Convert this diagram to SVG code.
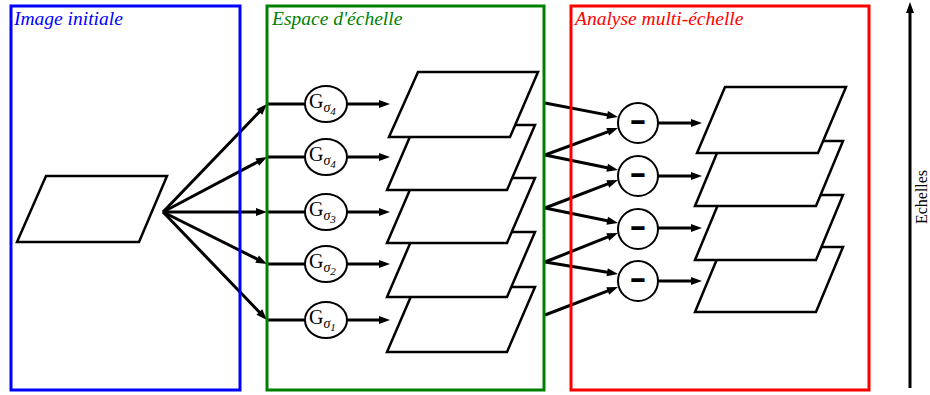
<svg xmlns="http://www.w3.org/2000/svg" width="930" height="395" viewBox="0 0 930 395">
<style>
.frame{fill:none;stroke-width:3}
.title{font-family:"Liberation Serif",serif;font-style:italic;font-size:19.5px}
.plane{fill:#fff;stroke:#000;stroke-width:2.5;stroke-linejoin:miter}
.node{fill:#fff;stroke:#000;stroke-width:2}
.con{fill:none;stroke:#000;stroke-width:3}
.arr{marker-end:url(#ah)}
.g{font-family:"Liberation Serif",serif;font-size:20px;fill:#000}
.sig{font-style:italic;font-size:14px}
.num{font-style:italic;font-size:11px}
.minus{font-family:"Liberation Serif",serif;font-weight:bold;font-size:24px;fill:#000;stroke:#000;stroke-width:2;text-anchor:middle}
.axis{font-family:"Liberation Serif",serif;font-size:16px;fill:#000;text-anchor:middle}
</style>
<defs>
<marker id="ah" markerUnits="userSpaceOnUse" markerWidth="12" markerHeight="9" refX="5" refY="4" orient="auto" overflow="visible">
<path d="M0,0 L11,4 L0,8 z" fill="#000"/>
</marker>
</defs>

<g id="connectors">
<line class="con arr" x1="163" y1="212" x2="262.8" y2="108.3"/>
<line class="con arr" x1="163" y1="212" x2="261.7" y2="159.8"/>
<line class="con arr" x1="163" y1="212" x2="261" y2="212"/>
<line class="con arr" x1="163" y1="212" x2="261.6" y2="261.3"/>
<line class="con arr" x1="163" y1="212" x2="262.8" y2="315.7"/>
<line class="con" x1="267" y1="104" x2="306" y2="104"/>
<line class="con" x1="267" y1="157" x2="306" y2="157"/>
<line class="con" x1="267" y1="212" x2="306" y2="212"/>
<line class="con" x1="267" y1="264" x2="306" y2="264"/>
<line class="con" x1="267" y1="320" x2="306" y2="320"/>
<line class="con arr" x1="346" y1="104" x2="384" y2="104"/>
<line class="con arr" x1="346" y1="157" x2="384" y2="157"/>
<line class="con arr" x1="346" y1="212" x2="384" y2="212"/>
<line class="con arr" x1="346" y1="264" x2="384" y2="264"/>
<line class="con arr" x1="346" y1="320" x2="384" y2="320"/>
<line class="con arr" x1="545" y1="103" x2="612.1" y2="115.9"/>
<line class="con arr" x1="545" y1="155" x2="612.4" y2="130.1"/>
<line class="con arr" x1="545" y1="155" x2="612.1" y2="168.8"/>
<line class="con arr" x1="545" y1="208" x2="612.4" y2="182.1"/>
<line class="con arr" x1="545" y1="208" x2="612.1" y2="221.8"/>
<line class="con arr" x1="545" y1="262" x2="612.4" y2="235.2"/>
<line class="con arr" x1="545" y1="262" x2="612.1" y2="273"/>
<line class="con arr" x1="545" y1="315" x2="612.4" y2="289.1"/>
<line class="con arr" x1="658" y1="123" x2="696" y2="123"/>
<line class="con arr" x1="658" y1="176" x2="696" y2="176"/>
<line class="con arr" x1="658" y1="228" x2="696" y2="228"/>
<line class="con arr" x1="658" y1="281" x2="696" y2="281"/>
<line class="con arr" x1="910" y1="388" x2="910" y2="8"/>
</g>

<g id="frame-image">
<rect class="frame" stroke="#0000ff" x="11" y="6" width="229" height="384"/>
<text class="title" fill="#0000ff" x="14" y="25">Image initiale</text>
</g>
<g id="frame-espace">
<rect class="frame" stroke="#008000" x="267" y="6" width="277" height="384"/>
<text class="title" fill="#008000" x="272" y="25">Espace d'échelle</text>
</g>
<g id="frame-analyse">
<rect class="frame" stroke="#ff0000" x="571" y="6" width="298" height="384"/>
<text class="title" fill="#ff0000" x="575" y="25">Analyse multi-échelle</text>
</g>

<g id="image-initiale">
<polygon class="plane" points="46,176 167,176 139,242 17,242"/>
</g>

<g id="g1"><ellipse class="node" cx="326" cy="320" rx="21" ry="18"/><text class="g" x="309" y="324">G<tspan class="sig" dy="4">σ</tspan><tspan class="num" dy="3">1</tspan></text></g>
<g id="g2"><ellipse class="node" cx="326" cy="264" rx="21" ry="18"/><text class="g" x="309" y="268">G<tspan class="sig" dy="4">σ</tspan><tspan class="num" dy="3">2</tspan></text></g>
<g id="g3"><ellipse class="node" cx="326" cy="212" rx="21" ry="18"/><text class="g" x="309" y="216">G<tspan class="sig" dy="4">σ</tspan><tspan class="num" dy="3">3</tspan></text></g>
<g id="g4b"><ellipse class="node" cx="326" cy="157" rx="21" ry="18"/><text class="g" x="309" y="161">G<tspan class="sig" dy="4">σ</tspan><tspan class="num" dy="3">4</tspan></text></g>
<g id="g4a"><ellipse class="node" cx="326" cy="104" rx="21" ry="18"/><text class="g" x="309" y="108">G<tspan class="sig" dy="4">σ</tspan><tspan class="num" dy="3">4</tspan></text></g>

<g id="espace-5"><polygon class="plane" points="415,287 535,287 507,352 387,352"/></g>
<g id="espace-4"><polygon class="plane" points="415,232 535,232 507,297 387,297"/></g>
<g id="espace-3"><polygon class="plane" points="415,178 535,178 507,243 387,243"/></g>
<g id="espace-2"><polygon class="plane" points="415,125 535,125 507,190 387,190"/></g>
<g id="espace-1"><polygon class="plane" points="418,72 538,72 510,137 389,137"/></g>

<g id="diff-1"><circle class="node" cx="638" cy="123" r="20"/><text class="minus" x="638" y="130">−</text></g>
<g id="diff-2"><circle class="node" cx="638" cy="176" r="20"/><text class="minus" x="638" y="183">−</text></g>
<g id="diff-3"><circle class="node" cx="638" cy="229" r="20"/><text class="minus" x="638" y="236">−</text></g>
<g id="diff-4"><circle class="node" cx="638" cy="281" r="20"/><text class="minus" x="638" y="288">−</text></g>

<g id="analyse-4"><polygon class="plane" points="722,247 843,247 816,312 695,312"/></g>
<g id="analyse-3"><polygon class="plane" points="722,195 843,195 816,260 695,260"/></g>
<g id="analyse-2"><polygon class="plane" points="722,141 843,141 816,206 695,206"/></g>
<g id="analyse-1"><polygon class="plane" points="725,87 846,87 818,153 697,153"/></g>

<g id="echelles">
<text class="axis" transform="translate(927,197) rotate(-90)">Echelles</text>
</g>
</svg>
